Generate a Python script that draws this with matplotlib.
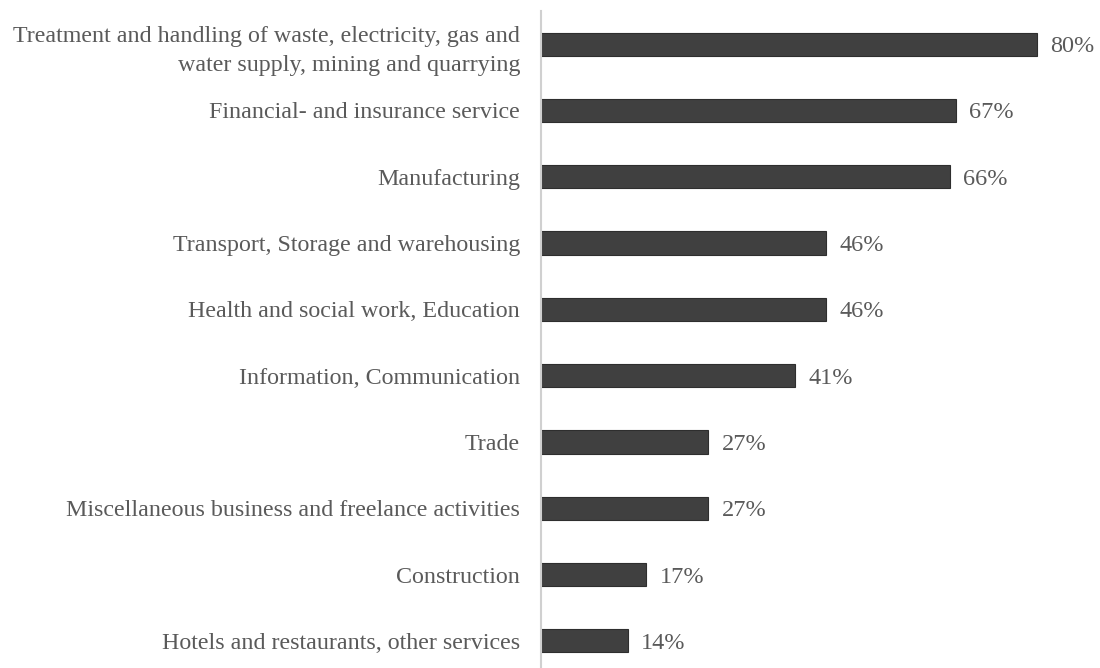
import matplotlib
matplotlib.use("Agg")
import matplotlib.pyplot as plt

categories = [
    "Treatment and handling of waste, electricity, gas and\nwater supply, mining and quarrying",
    "Financial- and insurance service",
    "Manufacturing",
    "Transport, Storage and warehousing",
    "Health and social work, Education",
    "Information, Communication",
    "Trade",
    "Miscellaneous business and freelance activities",
    "Construction",
    "Hotels and restaurants, other services",
]
shares = [80, 67, 66, 46, 46, 41, 27, 27, 17, 14]

plt.rcParams["font.family"] = ["Liberation Serif", "DejaVu Serif"]

fig = plt.figure(figsize=(11, 6.68), dpi=100)
ax = fig.add_axes([541 / 1100, -6 / 668, 559 / 1100, 663 / 668])

ypos = list(range(len(categories)))[::-1]
ax.barh(ypos, shares, height=0.35, color="#404040", edgecolor="#2e2e2e", linewidth=0.8)

for y, v in zip(ypos, shares):
    ax.text(v + 2.1, y, f"{v}%", va="center_baseline", ha="left", fontsize=17.5, color="#5a5a5a")

ax.set_xlim(0, 559 / 6.2)
ax.set_ylim(-0.5, 9.5)
ax.set_yticks(ypos)
ax.set_yticklabels(categories, fontsize=17.3, color="#5a5a5a", linespacing=1.5)
for lbl in ax.get_yticklabels()[:-1]:
    lbl.set_va("center_baseline")
ax.tick_params(axis="y", length=0, pad=15)
ax.set_xticks([])
for s in ["top", "right", "bottom"]:
    ax.spines[s].set_visible(False)
ax.spines["left"].set_color("#d0d0d0")
ax.spines["left"].set_linewidth(1.5)

fig.savefig("out.png", dpi=100)
